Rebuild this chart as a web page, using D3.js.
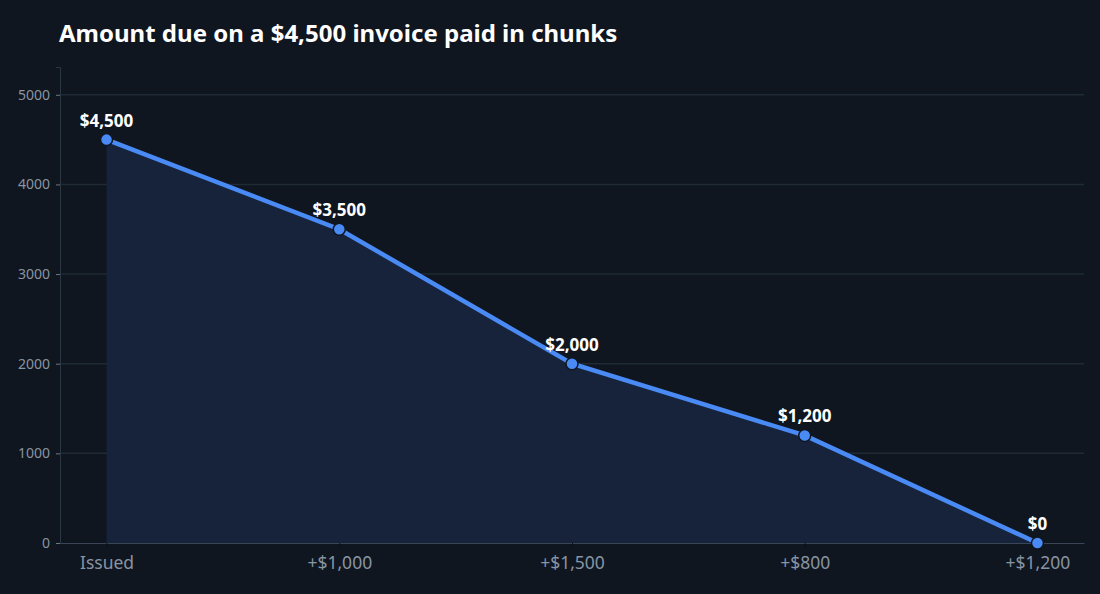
<!DOCTYPE html>
<html><head><meta charset="utf-8">
<script src="https://cdn.jsdelivr.net/npm/d3@7"></script>
<style>
body{margin:0;background:#10161f;font-family:"Noto Sans",sans-serif}
</style></head><body><svg></svg>
<script>
const steps = ["Issued","+$1,000","+$1,500","+$800","+$1,200"]
const due = [4500,3500,2000,1200,0]
const labels = ["$4,500","$3,500","$2,000","$1,200","$0"]
const yTicks = [0,1000,2000,3000,4000,5000]

const W = 1100, H = 594
const m = {l:60, r:16, t:67, b:51}

const svg = d3.select("svg").attr("width",W).attr("height",H)

svg.append("rect").attr("width",W).attr("height",H).attr("fill","#10161f")

svg.append("text")
    .attr("x",59).attr("y",42)
    .attr("fill","#ffffff").attr("font-size",24).attr("font-weight",700)
    .text("Amount due on a $4,500 invoice paid in chunks")

const x = d3.scalePoint().domain(steps).range([m.l, W-m.r]).padding(0.2)
const y = d3.scaleLinear().domain([0,5310]).range([H-m.b, m.t])

// grid
svg.append("g").selectAll("line").data(yTicks.slice(1)).enter().append("line")
    .attr("x1",m.l).attr("x2",W-m.r)
    .attr("y1",d=>y(d)).attr("y2",d=>y(d))
    .attr("stroke","#1e2a36").attr("stroke-width",1.5)

const pts = steps.map((s,i)=>({s:s,v:due[i],l:labels[i]}))

svg.append("path").datum(pts)
    .attr("d",d3.area().x(d=>x(d.s)).y0(y(0)).y1(d=>y(d.v)))
    .attr("fill","#16233b")

const yAxis = svg.append("g").attr("transform",`translate(${m.l},0)`)
    .call(d3.axisLeft(y).tickValues(yTicks).tickFormat(d3.format("d")).tickSize(4).tickPadding(6))
yAxis.select(".domain").attr("stroke","#2c3744")
yAxis.selectAll(".tick line").attr("stroke","#6b7785")
yAxis.selectAll("text").attr("fill","#8794a3").attr("font-size",14).attr("font-family","Noto Sans")

const xAxis = svg.append("g").attr("transform",`translate(0,${y(0)})`)
    .call(d3.axisBottom(x).tickSize(4).tickPadding(10).tickSizeOuter(0))
xAxis.select(".domain").attr("stroke","#3a4655")
xAxis.selectAll(".tick line").attr("stroke","#0b0f15")
xAxis.selectAll("text").attr("fill","#8794a3").attr("font-size",17.5).attr("font-family","Noto Sans")

svg.append("path").datum(pts)
    .attr("d",d3.line().x(d=>x(d.s)).y(d=>y(d.v)))
    .attr("fill","none").attr("stroke","#4a8af4").attr("stroke-width",4.5)

svg.append("g").selectAll("circle").data(pts).enter().append("circle")
    .attr("cx",d=>x(d.s)).attr("cy",d=>y(d.v)).attr("r",6)
    .attr("fill","#4a8af4").attr("stroke","#10161f").attr("stroke-width",1.5)

svg.append("g").selectAll("text").data(pts).enter().append("text")
    .attr("x",d=>x(d.s)).attr("y",d=>y(d.v)-13)
    .attr("text-anchor","middle").attr("fill","#ffffff")
    .attr("font-size",17).attr("font-weight",700)
    .text(d=>d.l)
</script></body></html>
